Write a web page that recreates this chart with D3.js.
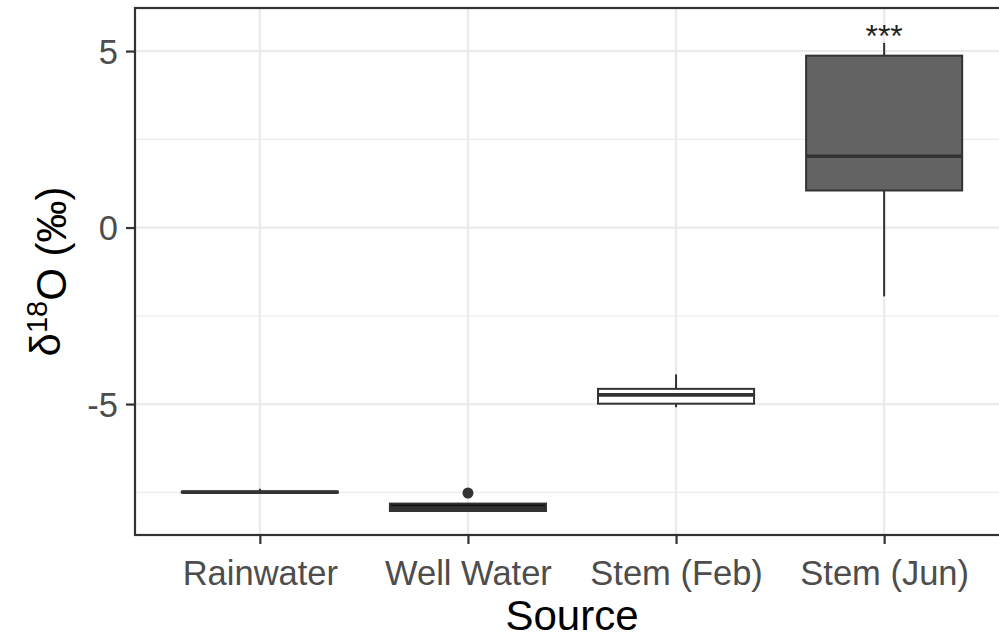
<!DOCTYPE html>
<html>
<head>
<meta charset="utf-8">
<script src="https://cdn.jsdelivr.net/npm/d3@7"></script>
<style>
  body { margin: 0; background: #fff; }
  svg { display: block; font-family: "Liberation Sans", Arial, sans-serif; }
</style>
</head>
<body>
<div id="chart"></div>
<script>
// values
var sources = ["Rainwater", "Well Water", "Stem (Feb)", "Stem (Jun)"];
var whiskerLow = [-7.52, -8.05, -5.09, -1.95];
var q1 = [-7.51, -8.03, -4.99, 1.05];
var medians = [-7.495, -7.95, -4.74, 2.02];
var q3 = [-7.48, -7.82, -4.57, 4.87];
var whiskerHigh = [-7.40, -7.82, -4.16, 5.23];
var fills = ["#ffffff", "#111111", "#ffffff", "#636363"];
var outlierSource = ["Well Water"];
var outlierValue = [-7.52];
var yTicks = [-5, 0, 5];
var yMinor = [-7.5, -2.5, 2.5];

var width = 999, height = 639;
var pLeft = 135, pTop = 8, pRight = 1009, pBottom = 535;

var svg = d3.select("#chart").append("svg")
    .attr("width", width)
    .attr("height", height);

var x = d3.scalePoint().domain(sources).range([pLeft, pRight]).padding(0.6);
var step = x.step();
var y = d3.scaleLinear().domain([-8.71, 6.22]).range([pBottom, pTop]);

// grid
svg.append("g").selectAll("line.minor")
    .data(yMinor).enter().append("line")
    .attr("x1", pLeft).attr("x2", pRight)
    .attr("y1", function (d) { return y(d); })
    .attr("y2", function (d) { return y(d); })
    .style("stroke", "#ebebeb").style("stroke-width", 1.2);

svg.append("g").selectAll("line.major")
    .data(yTicks).enter().append("line")
    .attr("x1", pLeft).attr("x2", pRight)
    .attr("y1", function (d) { return y(d); })
    .attr("y2", function (d) { return y(d); })
    .style("stroke", "#ebebeb").style("stroke-width", 2.2);

svg.append("g").selectAll("line.vgrid")
    .data(sources).enter().append("line")
    .attr("x1", function (d) { return x(d); })
    .attr("x2", function (d) { return x(d); })
    .attr("y1", pTop).attr("y2", pBottom)
    .style("stroke", "#ebebeb").style("stroke-width", 2.2);

// boxes
var boxW = step * 0.75;
var box = svg.append("g").selectAll("g")
    .data(sources).enter().append("g");

box.append("line")
    .attr("x1", function (d) { return x(d); })
    .attr("x2", function (d) { return x(d); })
    .attr("y1", function (d, i) { return y(whiskerHigh[i]); })
    .attr("y2", function (d, i) { return y(q3[i]); })
    .style("stroke", "#333333").style("stroke-width", 2);

box.append("line")
    .attr("x1", function (d) { return x(d); })
    .attr("x2", function (d) { return x(d); })
    .attr("y1", function (d, i) { return y(q1[i]); })
    .attr("y2", function (d, i) { return y(whiskerLow[i]); })
    .style("stroke", "#333333").style("stroke-width", 2);

box.append("rect")
    .attr("x", function (d) { return x(d) - boxW / 2; })
    .attr("width", boxW)
    .attr("y", function (d, i) { return y(q3[i]); })
    .attr("height", function (d, i) { return y(q1[i]) - y(q3[i]); })
    .style("fill", function (d, i) { return fills[i]; })
    .style("stroke", "#333333").style("stroke-width", 2);

box.append("line")
    .attr("x1", function (d) { return x(d) - boxW / 2; })
    .attr("x2", function (d) { return x(d) + boxW / 2; })
    .attr("y1", function (d, i) { return y(medians[i]); })
    .attr("y2", function (d, i) { return y(medians[i]); })
    .style("stroke", "#333333").style("stroke-width", 3.6);

svg.append("g").selectAll("circle")
    .data(outlierValue).enter().append("circle")
    .attr("cx", function (d, i) { return x(outlierSource[i]); })
    .attr("cy", function (d) { return y(d); })
    .attr("r", 5.5)
    .style("fill", "#333333");

// significance stars
svg.append("text")
    .attr("x", x("Stem (Jun)"))
    .attr("y", 47)
    .attr("text-anchor", "middle")
    .style("font-size", "32px")
    .style("fill", "#222222")
    .text("***");

// panel border
svg.append("rect")
    .attr("x", pLeft).attr("y", pTop)
    .attr("width", pRight - pLeft).attr("height", pBottom - pTop)
    .style("fill", "none").style("stroke", "#333333").style("stroke-width", 2.2);

// axes
var yAxis = svg.append("g")
    .attr("transform", "translate(" + pLeft + ",0)")
    .call(d3.axisLeft(y).tickValues(yTicks).tickFormat(function (d) { return String(d); })
        .tickSize(9).tickPadding(8));
var xAxis = svg.append("g")
    .attr("transform", "translate(0," + pBottom + ")")
    .call(d3.axisBottom(x).tickSize(9).tickPadding(8));

[yAxis, xAxis].forEach(function (a) {
    a.select(".domain").remove();
    a.selectAll(".tick line").style("stroke", "#333333").style("stroke-width", 2.2);
    a.selectAll(".tick text")
        .style("fill", "#4d4d4d")
        .style("font-size", "34.5px")
        .style("font-family", "Liberation Sans, Arial, sans-serif");
});
yAxis.selectAll(".tick text").attr("dy", "0.36em");
xAxis.selectAll(".tick text").attr("dy", "0.95em");

// axis titles
svg.append("text")
    .attr("x", (pLeft + pRight) / 2)
    .attr("y", 630)
    .attr("text-anchor", "middle")
    .style("font-size", "42px")
    .style("fill", "#000")
    .text("Source");

var yt = svg.append("text")
    .attr("transform", "translate(60," + ((pTop + pBottom) / 2) + ") rotate(-90)")
    .attr("text-anchor", "middle")
    .style("font-size", "42px")
    .style("fill", "#000");
yt.append("tspan").text("δ");
yt.append("tspan").attr("dy", "-0.45em").style("font-size", "29px").text("18");
yt.append("tspan").attr("dy", "0.45em").text("O (‰)");
</script>
</body>
</html>
